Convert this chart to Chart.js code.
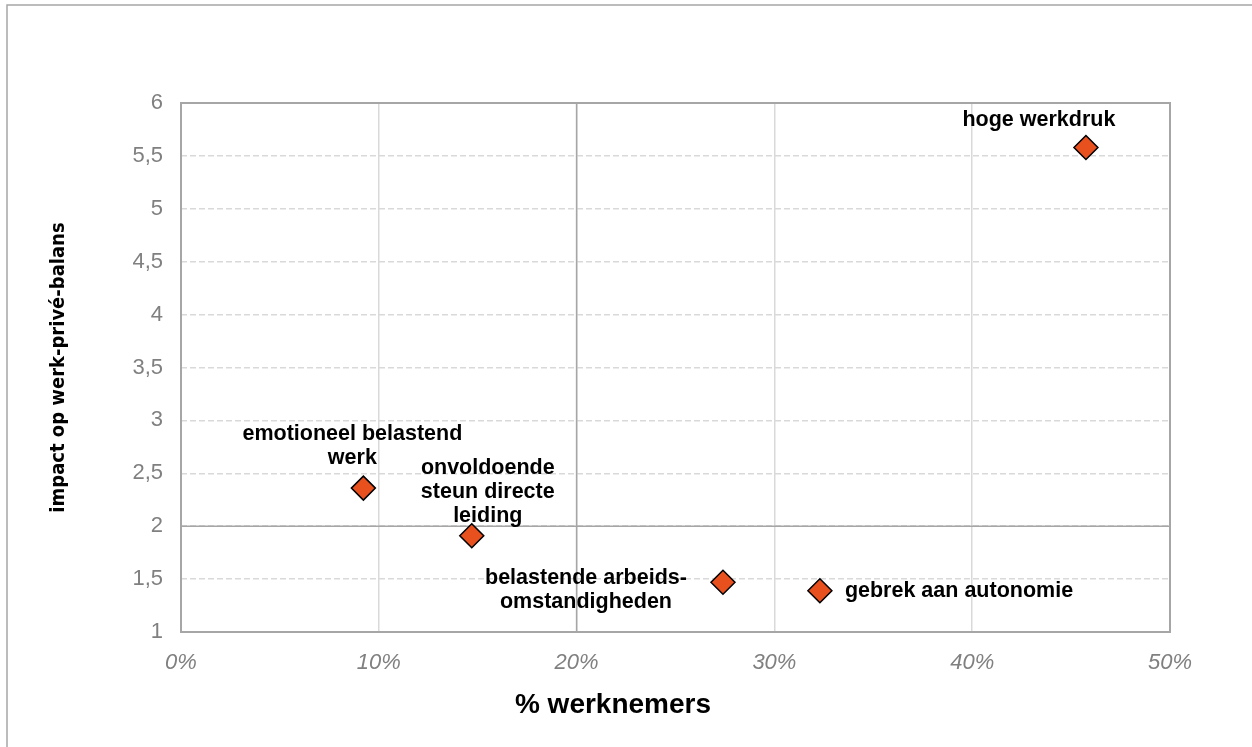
<!DOCTYPE html>
<html>
<head>
<meta charset="utf-8">
<script src="https://cdn.jsdelivr.net/npm/chart.js@4"></script>
<style>
  body { margin: 0; background: #fff; }
  #wrap { position: relative; width: 1252px; height: 747px; }
</style>
</head>
<body>
<div id="wrap"><canvas id="scatterChart"></canvas></div>
<script>
// categories and values
const categories = [
    ['hoge werkdruk'],
    ['emotioneel belastend', 'werk'],
    ['onvoldoende', 'steun directe', 'leiding'],
    ['belastende arbeids-', 'omstandigheden'],
    ['gebrek aan autonomie']
];
const werknemersPct = [45.75, 9.22, 14.7, 27.4, 32.3];
const impactBalans = [5.58, 2.36, 1.91, 1.47, 1.39];
const xTicks = [0, 10, 20, 30, 40, 50];
const yTicks = [1, 1.5, 2, 2.5, 3, 3.5, 4, 4.5, 5, 5.5, 6];

// label placement relative to each point (dx, dy of first line, align)
const labelPlacement = [
    { dx: -47, dy: -27, align: 'center' },
    { dx: -11, dy: -54, align: 'center' },
    { dx: 16, dy: -68, align: 'center' },
    { dx: -137, dy: -4, align: 'center' },
    { dx: 25, dy: 0, align: 'left' }
];

const points = werknemersPct.map((v, i) => ({ x: v, y: impactBalans[i] }));

// frame, quadrant lines, outer border, point labels
const framePlugin = {
    id: 'frame',
    beforeDraw(chart) {
        const ctx = chart.ctx;
        ctx.save();
        ctx.fillStyle = '#fff';
        ctx.fillRect(0, 0, chart.width, chart.height);
        ctx.strokeStyle = '#a6a6a6';
        ctx.lineWidth = 1.5;
        ctx.beginPath();
        ctx.moveTo(7, chart.height + 5);
        ctx.lineTo(7, 5);
        ctx.lineTo(chart.width + 5, 5);
        ctx.stroke();
        ctx.restore();
    },
    beforeDatasetsDraw(chart) {
        const { ctx, chartArea: a, scales: { x, y } } = chart;
        ctx.save();
        ctx.strokeStyle = '#a6a6a6';
        ctx.lineWidth = 1.5;
        const px = x.getPixelForValue(20);
        const py = y.getPixelForValue(2);
        ctx.beginPath();
        ctx.moveTo(px, a.top); ctx.lineTo(px, a.bottom);
        ctx.moveTo(a.left, py); ctx.lineTo(a.right, py);
        ctx.stroke();
        ctx.lineWidth = 2;
        ctx.strokeRect(a.left, a.top, a.right - a.left, a.bottom - a.top);
        ctx.restore();
    },
    afterDatasetsDraw(chart) {
        const ctx = chart.ctx;
        const meta = chart.getDatasetMeta(0);
        ctx.save();
        ctx.fillStyle = '#000';
        ctx.font = 'bold 21.5px "Liberation Sans", Arial, sans-serif';
        ctx.textBaseline = 'middle';
        meta.data.forEach((pt, i) => {
            const p = labelPlacement[i];
            ctx.textAlign = p.align;
            categories[i].forEach((line, j) => {
                ctx.fillText(line, pt.x + p.dx, pt.y + p.dy + j * 24);
            });
        });
        // x axis title
        ctx.font = 'bold 28px "Liberation Sans", Arial, sans-serif';
        ctx.textAlign = 'center';
        ctx.fillText('% werknemers', 613, 705);
        ctx.restore();
    }
};

new Chart(document.getElementById('scatterChart'), {
    type: 'scatter',
    data: {
        datasets: [{
            data: points,
            pointStyle: 'rectRot',
            pointRadius: 12,
            pointHoverRadius: 12,
            backgroundColor: '#e8501e',
            borderColor: '#000',
            borderWidth: 1.5
        }]
    },
    options: {
        responsive: true,
        maintainAspectRatio: false,
        animation: false,
        layout: { padding: { left: 0, right: 82, top: 103, bottom: 0 } },
        plugins: { legend: { display: false }, tooltip: { enabled: false } },
        scales: {
            x: {
                type: 'linear',
                min: 0,
                max: 50,
                afterBuildTicks: s => { s.ticks = xTicks.map(v => ({ value: v })); },
                afterFit: s => { s.height = 115; },
                border: { display: false },
                grid: { color: '#d9d9d9', lineWidth: 1.5, drawTicks: false },
                ticks: {
                    padding: 18,
                    color: '#808080',
                    font: { family: '"Liberation Sans", Arial', size: 22, style: 'italic' },
                    callback: v => v + '%'
                }
            },
            y: {
                type: 'linear',
                min: 1,
                max: 6,
                afterBuildTicks: s => { s.ticks = yTicks.map(v => ({ value: v })); },
                afterFit: s => { s.width = 181; },
                border: { display: false, dash: [6, 3] },
                grid: { color: '#d9d9d9', lineWidth: 1.5, drawTicks: false },
                ticks: {
                    padding: 18,
                    color: '#808080',
                    font: { family: '"Liberation Sans", Arial', size: 22 },
                    callback: v => String(v).replace('.', ',')
                },
                title: {
                    display: true,
                    text: 'impact op werk-privé-balans',
                    color: '#000',
                    font: { family: '"DejaVu Sans Condensed", "DejaVu Sans"', size: 20, weight: 'bold' },
                    padding: { top: 47, bottom: 0 }
                }
            }
        }
    },
    plugins: [framePlugin]
});
</script>
</body>
</html>
